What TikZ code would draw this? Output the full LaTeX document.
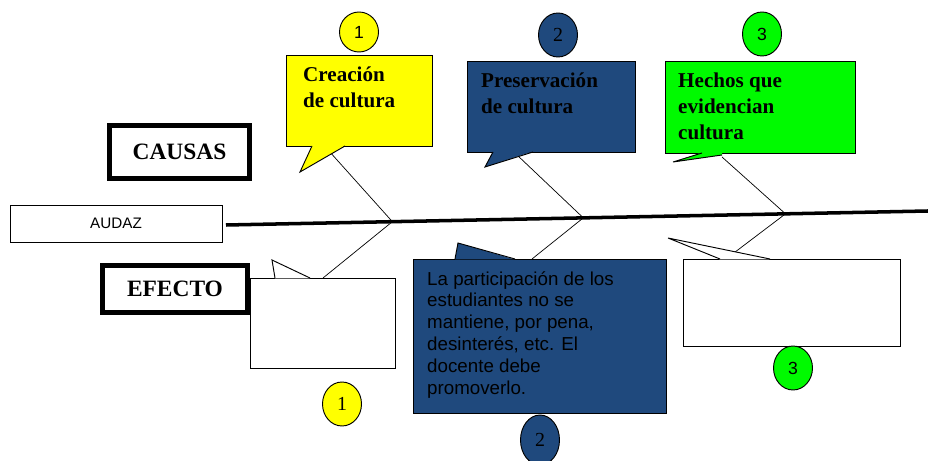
\documentclass[tikz,border=0pt]{standalone}
\usepackage{fontspec}
\setmainfont{Liberation Serif}
\setsansfont{Liberation Sans}
\usepackage{xcolor}
\usetikzlibrary{shapes.geometric,calc}

\definecolor{amarillo}{RGB}{255,255,0}
\definecolor{azul}{RGB}{31,73,125}
\definecolor{verde}{RGB}{0,250,0}
\newcommand{\unidad}{0.03cm}

\begin{document}
\begin{tikzpicture}[x=0.03cm,y=-0.03cm,
    titulo/.style={draw,line width=4.2pt,inner sep=0pt,
                   font=\bfseries\fontsize{20}{22}\selectfont},
    globo/.style={draw,line width=0.8pt,inner sep=0pt},
    num/.style={ellipse,draw,line width=0.8pt,inner sep=0pt,
                minimum width=39*\unidad,minimum height=44*\unidad,
                font=\sffamily\fontsize{15}{15}\selectfont},
    texto/.style={anchor=north west,inner sep=0pt,align=left,
                  font=\bfseries\fontsize{18}{22}\selectfont},
    hueso/.style={line width=0.6pt}]

  \useasboundingbox (0,0) rectangle (928,461);

  % etiquetas de la izquierda
  \node[titulo,minimum width=140*\unidad,minimum height=53*\unidad] (causas) at (179.5,152) {CAUSAS};
  \node[titulo,minimum width=145*\unidad,minimum height=47*\unidad] (efecto) at (175,289) {EFECTO};
  \node[draw,line width=0.8pt,minimum width=212*\unidad,minimum height=37*\unidad,
        font=\sffamily\fontsize{13}{13}\selectfont] (audaz) at (116,223.5) {AUDAZ};

  % espina
  \coordinate (ini) at (226,225);
  \coordinate (fin) at (928,211);
  \draw[line width=3pt] (ini) -- (fin);
  \coordinate (j1) at ($(ini)!0.237!(fin)$);
  \coordinate (j2) at ($(ini)!0.509!(fin)$);
  \coordinate (j3) at ($(ini)!0.797!(fin)$);

  % globos de arriba
  \node[globo,fill=amarillo,minimum width=146*\unidad,minimum height=91*\unidad] (c1) at (359,100.5) {};
  \coordinate (p1) at (300,172);
  \fill[amarillo] (312,145.5) -- (p1) -- (345,145.5) -- cycle;
  \draw[line width=0.8pt] (312,146) -- (p1) -- (345,146);
  \coordinate (t1) at ($(p1)!0.7!(345,146)$);

  \node[globo,fill=azul,minimum width=168*\unidad,minimum height=91*\unidad] (c2) at (551,106.5) {};
  \coordinate (p2) at (485,167);
  \fill[azul] (493,151.5) -- (p2) -- (533,151.5) -- cycle;
  \draw[line width=0.8pt] (493,152) -- (p2) -- (533,152);
  \coordinate (t2) at ($(p2)!0.7!(533,152)$);

  \node[globo,fill=verde,minimum width=190*\unidad,minimum height=92*\unidad] (c3) at (760,107) {};
  \coordinate (p3) at (673,162);
  \fill[verde] (702,152.5) -- (p3) -- (722,155) -- (722,152.5) -- cycle;
  \draw[line width=0.8pt] (702,153) -- (p3) -- (722,155);
  \coordinate (t3) at (722,157);

  \node[texto] (c1t) at (303,67) {Creación\\de cultura};
  \node[texto] (c2t) at (481,73) {Preservación\\de cultura};
  \node[texto] (c3t) at (678,73) {Hechos que\\evidencian\\cultura};

  % globos de abajo
  \node[globo,fill=white,minimum width=145*\unidad,minimum height=90*\unidad] (e1) at (322.5,323) {};
  \coordinate (q1) at (272,260);
  \fill[white] (275,278.5) -- (q1) -- (310,278.5) -- cycle;
  \draw[line width=0.8pt] (275,278) -- (273,266) -- (q1) -- (310,278);
  \coordinate (s1) at (323,278);

  \node[globo,fill=azul,minimum width=253*\unidad,minimum height=154*\unidad] (e2) at (539.5,336) {};
  \coordinate (q2) at (458,243);
  \fill[azul] (455,259.5) -- (q2) -- (515,259.5) -- cycle;
  \draw[line width=0.8pt] (455,259) -- (q2) -- (515,259);
  \coordinate (s2) at (532,259);

  \node[globo,fill=white,minimum width=217*\unidad,minimum height=87*\unidad] (e3) at (791.5,302.5) {};
  \coordinate (q3) at (668,238);
  \fill[white] (720,259.5) -- (q3) -- (770,259.5) -- cycle;
  \draw[line width=0.8pt] (720,259) -- (q3) -- (770,259);
  \coordinate (s3) at ($(q3)!0.66!(770,259)$);

  \node[anchor=north west,inner sep=0pt,align=left,
        font=\sffamily\fontsize{16}{18.7}\selectfont] (e2t) at (427,271)
       {La participación de los\\estudiantes no se\\mantiene, por pena,\\desinterés, etc. El\\docente debe\\promoverlo.};

  % huesos
  \draw[hueso] (t1) -- (j1) -- (s1);
  \draw[hueso] (t2) -- (j2) -- (s2);
  \draw[hueso] (t3) -- (j3) -- (s3);

  % numeros
  \node[num,fill=amarillo,minimum height=40*\unidad] (n1) at (359,32) {1};
  \node[num,fill=azul,font=\fontsize{17}{17}\selectfont] (n2) at (558,35) {2};
  \node[num,fill=verde] (n3) at (762,34) {3};
  \node[num,fill=amarillo,font=\fontsize{17}{17}\selectfont] (m1) at (342,404) {1};
  \node[num,fill=azul,minimum height=50*\unidad,font=\fontsize{17}{17}\selectfont] (m2) at (540,440) {2};
  \node[num,fill=verde] (m3) at (793,368) {3};
\end{tikzpicture}
\end{document}
